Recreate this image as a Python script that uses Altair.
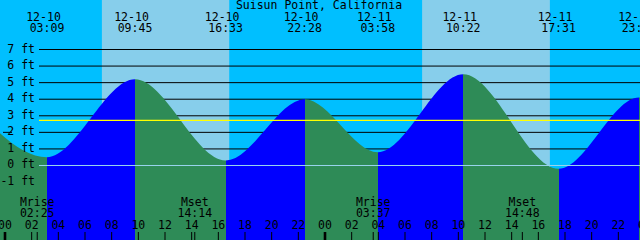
import altair as alt
import pandas as pd

# ---------------- data ----------------
title_text = "Suisun Point, California"

tide_date = ["12-09", "12-10", "12-10", "12-10", "12-10", "12-11", "12-11", "12-11", "12-11", "12-12"]
tide_time = ["21:20", "03:09", "09:45", "16:33", "22:28", "03:58", "10:22", "17:31", "23:33", "05:00"]
tide_ft = [3.8, 0.5, 5.2, 0.3, 4.0, 0.8, 5.5, -0.2, 4.1, 0.9]

sun_date = ["12-10", "12-11"]
sunrise_time = ["07:16", "07:17"]
sunset_time = ["16:49", "16:52"]

moon_date = ["12-10", "12-10", "12-11", "12-11"]
moon_event = ["Mrise", "Mset", "Mrise", "Mset"]
moon_time = ["02:25", "14:14", "03:37", "14:48"]

level_ft = [-1, 0, 1, 2, 3, 4, 5, 6, 7]
level_label = ["-1 ft", "0 ft", "1 ft", "2 ft", "3 ft", "4 ft", "5 ft", "6 ft", "7 ft"]
grid_ft = [-1, 1, 2, 3, 4, 5, 6, 7]
mean_ft = [2.72]
mark_ft = [2]

hour_label = ["00", "02", "04", "06", "08", "10", "12", "14", "16", "18", "20", "22"]
axis_days = ["12-10", "12-11", "12-12"]

day_index = {"12-09": -1, "12-10": 0, "12-11": 1, "12-12": 2}

# ---------------- styles ----------------
NIGHT = "#00bfff"
DAY = "#87ceeb"
RISE = "#0000ff"
FALL = "#2e8b57"
FONT = "DejaVu Sans Mono"
FS = 11.5

Y_MIN, Y_MAX = -4.4958, 9.9873


def hours(d, t):
    hh, mm = t.split(":")
    return 24 * day_index[d] + int(hh) + int(mm) / 60.0


xs = alt.Scale(domain=[-0.375, 47.625], nice=False, zero=False)
ys = alt.Scale(domain=[Y_MIN, Y_MAX], nice=False, zero=False)

tide = pd.DataFrame({
    "h": [hours(d, t) for d, t in zip(tide_date, tide_time)],
    "ft": tide_ft,
    "date": tide_date,
    "time": tide_time,
})

# gradient stops: blue while rising, green while falling
h0, h1 = tide["h"].iloc[0], tide["h"].iloc[-1]
span = h1 - h0
stops = []
for i in range(len(tide) - 1):
    col = RISE if tide_ft[i + 1] > tide_ft[i] else FALL
    a = (tide["h"].iloc[i] - h0) / span
    b = (tide["h"].iloc[i + 1] - h0) / span
    stops.append(alt.GradientStop(color=col, offset=float(a)))
    stops.append(alt.GradientStop(color=col, offset=float(b)))
grad = alt.LinearGradient(gradient="linear", stops=stops, x1=0, x2=1, y1=0, y2=0)

sun = pd.DataFrame({
    "rise": [hours(d, t) for d, t in zip(sun_date, sunrise_time)],
    "set": [hours(d, t) for d, t in zip(sun_date, sunset_time)],
})

moon = pd.DataFrame({
    "h": [hours(d, t) for d, t in zip(moon_date, moon_time)],
    "event": moon_event,
    "time": moon_time,
})

levels = pd.DataFrame({"ft": level_ft, "label": level_label})
grid = pd.DataFrame({"ft": grid_ft})
mean = pd.DataFrame({"ft": mean_ft})
zero = pd.DataFrame({"ft": [0]})
markdf = pd.DataFrame({"ft": mark_ft})

hrows = []
for d in axis_days:
    for lab in hour_label:
        hrows.append({"h": hours(d, lab + ":00"), "label": lab, "midnight": lab == "00"})
hticks = pd.DataFrame(hrows)
hticks = hticks[hticks["h"] <= 48.5]

# ---------------- layers ----------------
day_rects = alt.Chart(sun).mark_rect(color=DAY).encode(
    x=alt.X("rise:Q", scale=xs, axis=None),
    x2="set:Q",
    y=alt.value(0),
    y2=alt.value(240),
)

grid_lines = alt.Chart(grid).mark_rule(color="black", strokeWidth=1).encode(
    x=alt.value(39), x2=alt.value(640),
    y=alt.Y("ft:Q", scale=ys, axis=None),
)

area = alt.Chart(tide).mark_area(
    fill=grad, interpolate="monotone", clip=True, opacity=1
).encode(
    x=alt.X("h:Q", scale=xs, axis=None),
    y=alt.Y("ft:Q", scale=ys, axis=None),
    y2=alt.datum(Y_MIN),
)

mean_line = alt.Chart(mean).mark_rule(color="#ffff00", strokeWidth=1.2).encode(
    x=alt.value(39), x2=alt.value(640),
    y=alt.Y("ft:Q", scale=ys, axis=None),
)

zero_line = alt.Chart(zero).mark_rule(color="#9ad4ee", strokeWidth=1).encode(
    x=alt.value(39), x2=alt.value(640),
    y=alt.Y("ft:Q", scale=ys, axis=None),
)

mark_dash = alt.Chart(markdf).mark_rule(color="black", strokeWidth=1).encode(
    x=alt.value(3), x2=alt.value(12),
    y=alt.Y("ft:Q", scale=ys, axis=None),
)

level_text = alt.Chart(levels).mark_text(
    font=FONT, fontSize=FS, align="right", baseline="middle", color="black"
).encode(
    x=alt.value(35),
    y=alt.Y("ft:Q", scale=ys, axis=None),
    text="label:N",
)

title = alt.Chart(pd.DataFrame({"t": [title_text]})).mark_text(
    font=FONT, fontSize=FS, align="center", baseline="middle", color="black"
).encode(x=alt.value(319), y=alt.value(5.8), text="t:N")

ev_date = alt.Chart(tide).mark_text(
    font=FONT, fontSize=FS, align="center", baseline="middle", color="black", dx=-3.5
).encode(x=alt.X("h:Q", scale=xs, axis=None), y=alt.value(17.5), text="date:N")

ev_time = alt.Chart(tide).mark_text(
    font=FONT, fontSize=FS, align="center", baseline="middle", color="black"
).encode(x=alt.X("h:Q", scale=xs, axis=None), y=alt.value(29.2), text="time:N")

moon_name = alt.Chart(moon).mark_text(
    font=FONT, fontSize=FS, align="center", baseline="middle", color="black"
).encode(x=alt.X("h:Q", scale=xs, axis=None), y=alt.value(202.5), text="event:N")

moon_tm = alt.Chart(moon).mark_text(
    font=FONT, fontSize=FS, align="center", baseline="middle", color="black"
).encode(x=alt.X("h:Q", scale=xs, axis=None), y=alt.value(213.8), text="time:N")

moon_ticks = alt.Chart(moon).mark_rule(color="black", strokeWidth=1).encode(
    x=alt.X("h:Q", scale=xs, axis=None), y=alt.value(232), y2=alt.value(240)
)

hour_text = alt.Chart(hticks).mark_text(
    font=FONT, fontSize=FS, align="center", baseline="middle", color="black"
).encode(x=alt.X("h:Q", scale=xs, axis=None), y=alt.value(225.7), text="label:N")

hour_ticks = alt.Chart(hticks).transform_filter("!datum.midnight").mark_rule(
    color="black", strokeWidth=1
).encode(x=alt.X("h:Q", scale=xs, axis=None), y=alt.value(232), y2=alt.value(240))

mid_ticks = alt.Chart(hticks).transform_filter("datum.midnight").mark_rule(
    color="black", strokeWidth=2.6
).encode(x=alt.X("h:Q", scale=xs, axis=None), y=alt.value(232), y2=alt.value(240))

chart = alt.layer(
    day_rects, grid_lines, area, mean_line, zero_line, mark_dash,
    level_text, title, ev_date, ev_time, moon_name, moon_tm,
    moon_ticks, hour_text, hour_ticks, mid_ticks,
).properties(
    width=640, height=240, padding=0, autosize="none", background=NIGHT
).configure_view(stroke=None, fill=NIGHT)

chart.save("out.html", embed_options={"renderer": "svg", "actions": False})
